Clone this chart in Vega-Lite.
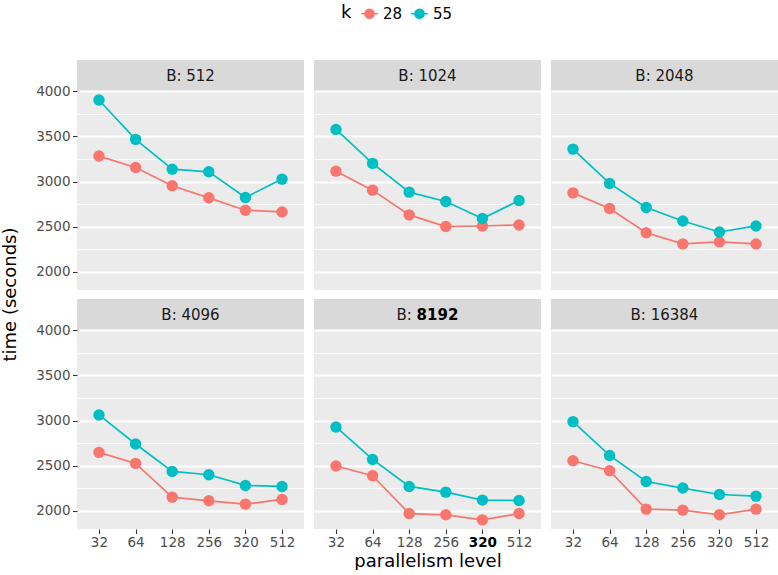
{
 "$schema": "https://vega.github.io/schema/vega-lite/v6.json",
 "padding": {"left": 1, "top": 4, "right": 0, "bottom": 0},
 "datasets": {
  "d": [
   {"B":512,"p":32,"k":"28","t":3282},{"B":512,"p":64,"k":"28","t":3156},{"B":512,"p":128,"k":"28","t":2953},{"B":512,"p":256,"k":"28","t":2820},{"B":512,"p":320,"k":"28","t":2683},{"B":512,"p":512,"k":"28","t":2664},
   {"B":512,"p":32,"k":"55","t":3902},{"B":512,"p":64,"k":"55","t":3467},{"B":512,"p":128,"k":"55","t":3137},{"B":512,"p":256,"k":"55","t":3108},{"B":512,"p":320,"k":"55","t":2824},{"B":512,"p":512,"k":"55","t":3027},
   {"B":1024,"p":32,"k":"28","t":3115},{"B":1024,"p":64,"k":"28","t":2905},{"B":1024,"p":128,"k":"28","t":2631},{"B":1024,"p":256,"k":"28","t":2502},{"B":1024,"p":320,"k":"28","t":2508},{"B":1024,"p":512,"k":"28","t":2520},
   {"B":1024,"p":32,"k":"55","t":3577},{"B":1024,"p":64,"k":"55","t":3201},{"B":1024,"p":128,"k":"55","t":2883},{"B":1024,"p":256,"k":"55","t":2779},{"B":1024,"p":320,"k":"55","t":2591},{"B":1024,"p":512,"k":"55","t":2790},
   {"B":2048,"p":32,"k":"28","t":2875},{"B":2048,"p":64,"k":"28","t":2701},{"B":2048,"p":128,"k":"28","t":2434},{"B":2048,"p":256,"k":"28","t":2310},{"B":2048,"p":320,"k":"28","t":2332},{"B":2048,"p":512,"k":"28","t":2310},
   {"B":2048,"p":32,"k":"55","t":3359},{"B":2048,"p":64,"k":"55","t":2979},{"B":2048,"p":128,"k":"55","t":2713},{"B":2048,"p":256,"k":"55","t":2564},{"B":2048,"p":320,"k":"55","t":2442},{"B":2048,"p":512,"k":"55","t":2509},
   {"B":4096,"p":32,"k":"28","t":2648},{"B":4096,"p":64,"k":"28","t":2526},{"B":4096,"p":128,"k":"28","t":2153},{"B":4096,"p":256,"k":"28","t":2112},{"B":4096,"p":320,"k":"28","t":2075},{"B":4096,"p":512,"k":"28","t":2127},
   {"B":4096,"p":32,"k":"55","t":3062},{"B":4096,"p":64,"k":"55","t":2741},{"B":4096,"p":128,"k":"55","t":2437},{"B":4096,"p":256,"k":"55","t":2400},{"B":4096,"p":320,"k":"55","t":2282},{"B":4096,"p":512,"k":"55","t":2271},
   {"B":8192,"p":32,"k":"28","t":2497},{"B":8192,"p":64,"k":"28","t":2389},{"B":8192,"p":128,"k":"28","t":1971},{"B":8192,"p":256,"k":"28","t":1957},{"B":8192,"p":320,"k":"28","t":1901},{"B":8192,"p":512,"k":"28","t":1971},
   {"B":8192,"p":32,"k":"55","t":2929},{"B":8192,"p":64,"k":"55","t":2570},{"B":8192,"p":128,"k":"55","t":2271},{"B":8192,"p":256,"k":"55","t":2208},{"B":8192,"p":320,"k":"55","t":2120},{"B":8192,"p":512,"k":"55","t":2116},
   {"B":16384,"p":32,"k":"28","t":2555},{"B":16384,"p":64,"k":"28","t":2445},{"B":16384,"p":128,"k":"28","t":2020},{"B":16384,"p":256,"k":"28","t":2009},{"B":16384,"p":320,"k":"28","t":1957},{"B":16384,"p":512,"k":"28","t":2020},
   {"B":16384,"p":32,"k":"55","t":2988},{"B":16384,"p":64,"k":"55","t":2614},{"B":16384,"p":128,"k":"55","t":2326},{"B":16384,"p":256,"k":"55","t":2253},{"B":16384,"p":320,"k":"55","t":2182},{"B":16384,"p":512,"k":"55","t":2164}
  ],
  "s": [
   {"B":512,"label":"B: 512"},{"B":1024,"label":"B: 1024"},{"B":2048,"label":"B: 2048"},
   {"B":4096,"label":"B: 4096"},{"B":8192,"pre":"B:","num":"8192"},{"B":16384,"label":"B: 16384"}
  ]
 },
 "spacing": 14,
 "hconcat": [
  {"width": 20, "height": 469, "view": {"stroke": null},
   "data": {"values": [{"label": "time (seconds)"}]},
   "mark": {"type": "text", "angle": 270, "fontSize": 18, "color": "#000000"},
   "encoding": {"text": {"field": "label", "type": "nominal"}}},
  {"spacing": 9, "vconcat": [
   {"spacing": 10, "hconcat": [
    {"spacing": 0, "bounds": "flush", "vconcat": [
     {"width": 227, "height": 31, "view": {"fill": "#D9D9D9", "stroke": null}, "data": {"name": "s"}, "transform": [{"filter": "datum.B == 512"}], "mark": {"type": "text", "fontSize": 15, "color": "#1A1A1A"}, "encoding": {"text": {"field": "label", "type": "nominal"}}},
     {"width": 227, "height": 199, "view": {"fill": "#EBEBEB", "stroke": null}, "data": {"name": "d"}, "transform": [{"filter": "datum.B == 512"}],
      "encoding": {
       "x": {"field": "p", "type": "ordinal", "scale": {"type": "point", "padding": 0.6}, "axis": {"labels": false, "ticks": false, "title": null}},
       "y": {"field": "t", "type": "quantitative", "scale": {"domain": [1800, 4002], "nice": false, "zero": false}, "axis": {"values": [2000,2250,2500,2750,3000,3250,3500,3750,4000], "format": "d", "title": null, "labelExpr": "datum.value % 500 == 0 ? datum.label : ''", "gridWidth": {"condition": {"test": "datum.value % 500 == 0", "value": 1.8}, "value": 0.8}, "tickOpacity": {"condition": {"test": "datum.value % 500 == 0", "value": 1}, "value": 0}, "labelPadding": 2.5}},
       "color": {"field": "k", "type": "nominal", "title": "k", "scale": {"domain": ["28","55"], "range": ["#F8766D","#00BFC4"]}}},
      "layer": [{"mark": {"type": "line", "strokeWidth": 1.7}}, {"mark": {"type": "circle", "size": 130, "opacity": 1}}]}
    ]},
    {"spacing": 0, "bounds": "flush", "vconcat": [
     {"width": 227, "height": 31, "view": {"fill": "#D9D9D9", "stroke": null}, "data": {"name": "s"}, "transform": [{"filter": "datum.B == 1024"}], "mark": {"type": "text", "fontSize": 15, "color": "#1A1A1A"}, "encoding": {"text": {"field": "label", "type": "nominal"}}},
     {"width": 227, "height": 199, "view": {"fill": "#EBEBEB", "stroke": null}, "data": {"name": "d"}, "transform": [{"filter": "datum.B == 1024"}],
      "encoding": {
       "x": {"field": "p", "type": "ordinal", "scale": {"type": "point", "padding": 0.6}, "axis": {"labels": false, "ticks": false, "title": null}},
       "y": {"field": "t", "type": "quantitative", "scale": {"domain": [1800, 4002], "nice": false, "zero": false}, "axis": {"values": [2000,2250,2500,2750,3000,3250,3500,3750,4000], "labels": false, "ticks": false, "title": null, "gridWidth": {"condition": {"test": "datum.value % 500 == 0", "value": 1.8}, "value": 0.8}}},
       "color": {"field": "k", "type": "nominal", "title": "k", "scale": {"domain": ["28","55"], "range": ["#F8766D","#00BFC4"]}}},
      "layer": [{"mark": {"type": "line", "strokeWidth": 1.7}}, {"mark": {"type": "circle", "size": 130, "opacity": 1}}]}
    ]},
    {"spacing": 0, "bounds": "flush", "vconcat": [
     {"width": 227, "height": 31, "view": {"fill": "#D9D9D9", "stroke": null}, "data": {"name": "s"}, "transform": [{"filter": "datum.B == 2048"}], "mark": {"type": "text", "fontSize": 15, "color": "#1A1A1A"}, "encoding": {"text": {"field": "label", "type": "nominal"}}},
     {"width": 227, "height": 199, "view": {"fill": "#EBEBEB", "stroke": null}, "data": {"name": "d"}, "transform": [{"filter": "datum.B == 2048"}],
      "encoding": {
       "x": {"field": "p", "type": "ordinal", "scale": {"type": "point", "padding": 0.6}, "axis": {"labels": false, "ticks": false, "title": null}},
       "y": {"field": "t", "type": "quantitative", "scale": {"domain": [1800, 4002], "nice": false, "zero": false}, "axis": {"values": [2000,2250,2500,2750,3000,3250,3500,3750,4000], "labels": false, "ticks": false, "title": null, "gridWidth": {"condition": {"test": "datum.value % 500 == 0", "value": 1.8}, "value": 0.8}}},
       "color": {"field": "k", "type": "nominal", "title": "k", "scale": {"domain": ["28","55"], "range": ["#F8766D","#00BFC4"]}}},
      "layer": [{"mark": {"type": "line", "strokeWidth": 1.7}}, {"mark": {"type": "circle", "size": 130, "opacity": 1}}]}
    ]}
   ]},
   {"spacing": 10, "hconcat": [
    {"spacing": 0, "bounds": "flush", "vconcat": [
     {"width": 227, "height": 31, "view": {"fill": "#D9D9D9", "stroke": null}, "data": {"name": "s"}, "transform": [{"filter": "datum.B == 4096"}], "mark": {"type": "text", "fontSize": 15, "color": "#1A1A1A"}, "encoding": {"text": {"field": "label", "type": "nominal"}}},
     {"width": 227, "height": 199, "view": {"fill": "#EBEBEB", "stroke": null}, "data": {"name": "d"}, "transform": [{"filter": "datum.B == 4096"}],
      "encoding": {
       "x": {"field": "p", "type": "ordinal", "scale": {"type": "point", "padding": 0.6}, "axis": {"title": null, "labelAngle": 0, "labelPadding": 2}},
       "y": {"field": "t", "type": "quantitative", "scale": {"domain": [1800, 4002], "nice": false, "zero": false}, "axis": {"values": [2000,2250,2500,2750,3000,3250,3500,3750,4000], "format": "d", "title": null, "labelExpr": "datum.value % 500 == 0 ? datum.label : ''", "gridWidth": {"condition": {"test": "datum.value % 500 == 0", "value": 1.8}, "value": 0.8}, "tickOpacity": {"condition": {"test": "datum.value % 500 == 0", "value": 1}, "value": 0}, "labelPadding": 2.5}},
       "color": {"field": "k", "type": "nominal", "title": "k", "scale": {"domain": ["28","55"], "range": ["#F8766D","#00BFC4"]}}},
      "layer": [{"mark": {"type": "line", "strokeWidth": 1.7}}, {"mark": {"type": "circle", "size": 130, "opacity": 1}}]}
    ]},
    {"spacing": 0, "bounds": "flush", "vconcat": [
     {"width": 227, "height": 31, "view": {"fill": "#D9D9D9", "stroke": null}, "data": {"name": "s"}, "transform": [{"filter": "datum.B == 8192"}],
      "layer": [
       {"mark": {"type": "text", "fontSize": 15, "color": "#1A1A1A", "align": "right", "dx": -15.7}, "encoding": {"text": {"field": "pre", "type": "nominal"}}},
       {"mark": {"type": "text", "fontSize": 15, "color": "#000000", "fontWeight": "bold", "align": "left", "dx": -10.9}, "encoding": {"text": {"field": "num", "type": "nominal"}}}
      ]},
     {"width": 227, "height": 199, "view": {"fill": "#EBEBEB", "stroke": null}, "data": {"name": "d"}, "transform": [{"filter": "datum.B == 8192"}],
      "encoding": {
       "x": {"field": "p", "type": "ordinal", "scale": {"type": "point", "padding": 0.6}, "axis": {"title": "parallelism level", "titlePadding": 3, "labelAngle": 0, "labelPadding": 2, "labelFontWeight": {"condition": {"test": "datum.value == 320", "value": "bold"}, "value": "normal"}, "labelColor": {"condition": {"test": "datum.value == 320", "value": "#000000"}, "value": "#4D4D4D"}}},
       "y": {"field": "t", "type": "quantitative", "scale": {"domain": [1800, 4002], "nice": false, "zero": false}, "axis": {"values": [2000,2250,2500,2750,3000,3250,3500,3750,4000], "labels": false, "ticks": false, "title": null, "gridWidth": {"condition": {"test": "datum.value % 500 == 0", "value": 1.8}, "value": 0.8}}},
       "color": {"field": "k", "type": "nominal", "title": "k", "scale": {"domain": ["28","55"], "range": ["#F8766D","#00BFC4"]}}},
      "layer": [{"mark": {"type": "line", "strokeWidth": 1.7}}, {"mark": {"type": "circle", "size": 130, "opacity": 1}}]}
    ]},
    {"spacing": 0, "bounds": "flush", "vconcat": [
     {"width": 227, "height": 31, "view": {"fill": "#D9D9D9", "stroke": null}, "data": {"name": "s"}, "transform": [{"filter": "datum.B == 16384"}], "mark": {"type": "text", "fontSize": 15, "color": "#1A1A1A"}, "encoding": {"text": {"field": "label", "type": "nominal"}}},
     {"width": 227, "height": 199, "view": {"fill": "#EBEBEB", "stroke": null}, "data": {"name": "d"}, "transform": [{"filter": "datum.B == 16384"}],
      "encoding": {
       "x": {"field": "p", "type": "ordinal", "scale": {"type": "point", "padding": 0.6}, "axis": {"title": null, "labelAngle": 0, "labelPadding": 2}},
       "y": {"field": "t", "type": "quantitative", "scale": {"domain": [1800, 4002], "nice": false, "zero": false}, "axis": {"values": [2000,2250,2500,2750,3000,3250,3500,3750,4000], "labels": false, "ticks": false, "title": null, "gridWidth": {"condition": {"test": "datum.value % 500 == 0", "value": 1.8}, "value": 0.8}}},
       "color": {"field": "k", "type": "nominal", "title": "k", "scale": {"domain": ["28","55"], "range": ["#F8766D","#00BFC4"]}}},
      "layer": [{"mark": {"type": "line", "strokeWidth": 1.7}}, {"mark": {"type": "circle", "size": 130, "opacity": 1}}]}
    ]}
   ]}
  ]}
 ],
 "config": {
  "font": "DejaVu Sans",
  "axis": {"domain": false, "gridColor": "#FFFFFF", "gridWidth": 1.8, "tickColor": "#333333", "tickWidth": 1.1, "tickSize": 4.5, "labelFontSize": 13.5, "labelColor": "#4D4D4D", "titleFontSize": 18, "titleFontWeight": "normal", "titleColor": "#000000"},
  "legend": {"orient": "none", "legendX": 340, "legendY": -56, "direction": "horizontal", "titleOrient": "left", "titleFontSize": 18, "titleFontWeight": "normal", "titleColor": "#000000", "titlePadding": 8, "labelFontSize": 15, "labelColor": "#000000", "symbolType": "M-1,0L1,0M0.54,0A0.54,0.54,0,1,1,-0.54,0A0.54,0.54,0,1,1,0.54,0Z", "symbolSize": 280, "symbolStrokeWidth": 1.7, "labelOffset": 4, "columnPadding": 4, "symbolOpacity": 1}
 }
}
